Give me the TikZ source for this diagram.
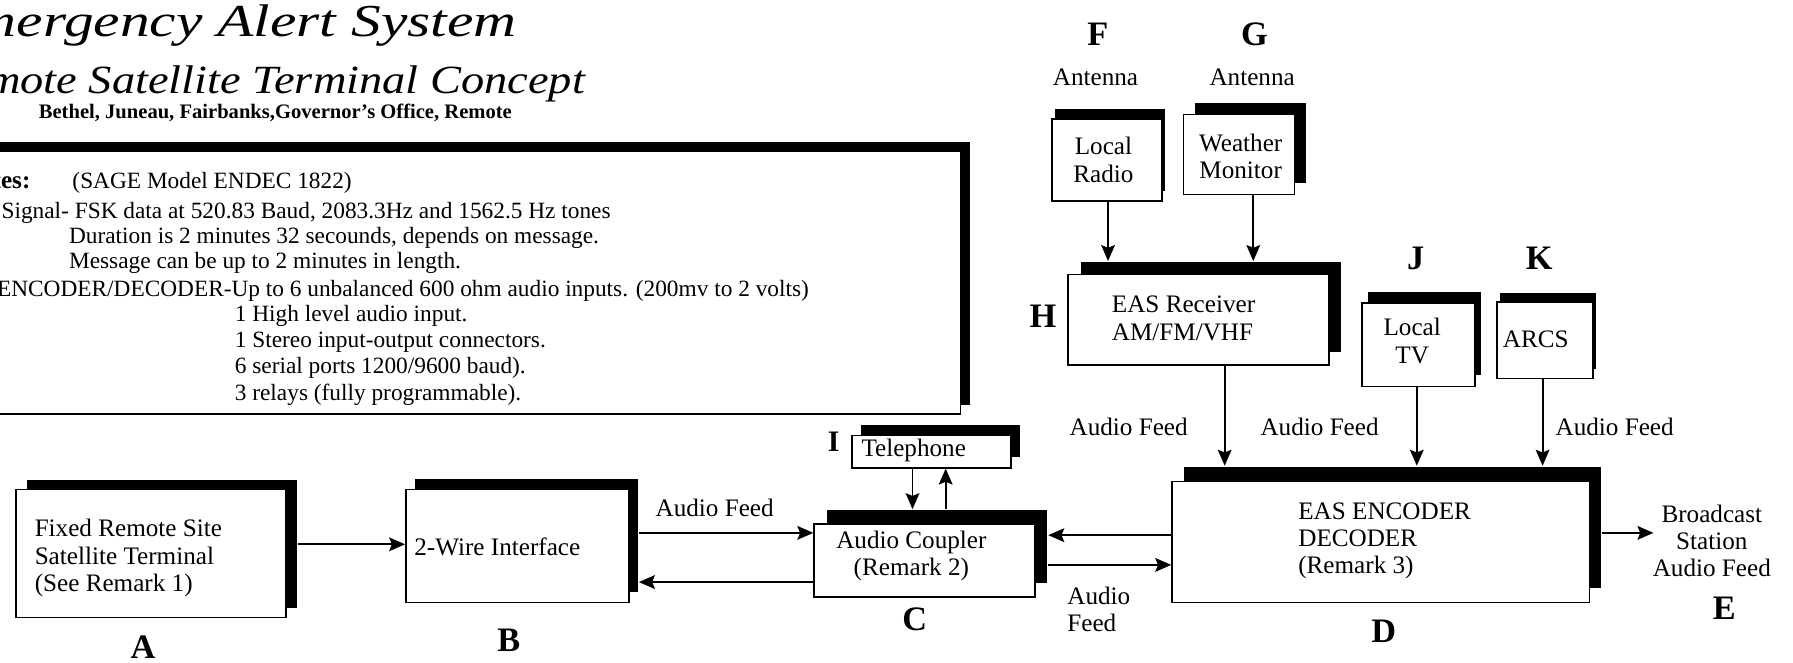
\documentclass[tikz,border=0pt]{standalone}
\usepackage{graphicx}
\usepackage{fontspec}
\setmainfont{Liberation Serif}
\usetikzlibrary{arrows.meta,shadows}
\begin{document}
\begin{tikzpicture}[x=0.5pt,y=-0.5pt,
  box/.style={draw=black, line width=0.7pt, fill=white, inner sep=0pt},
  sh/.style 2 args={general shadow={fill=black, shadow xshift=#1, shadow yshift=#2}},
  txt/.style={font=\fontsize{11}{12}\selectfont, inner sep=0pt},
  note/.style={font=\fontsize{10.2}{11}\selectfont, inner sep=0pt, anchor=west},
  big/.style={font=\bfseries\fontsize{15}{15}\selectfont, inner sep=0pt},
  arr/.style={line width=0.8pt, -{Stealth[length=7pt,width=6pt,inset=1.2pt]}}]
\fill[white] (0,0) rectangle (1568,579);
\useasboundingbox (0,0) rectangle (1568,579);

% titles
\node[anchor=base east, inner sep=0pt, font=\itshape\fontsize{20}{20}\selectfont] (t1) at (452,32) {\scalebox{1.3}[1]{Emergency Alert System}};
\node[anchor=base east, inner sep=0pt, font=\itshape\fontsize{17.5}{17.5}\selectfont] (t2) at (512,82) {\scalebox{1.16}[1]{Remote Satellite Terminal Concept}};
\node[anchor=base east, inner sep=0pt, font=\bfseries\fontsize{9}{9}\selectfont] (t3) at (448,104) {Bethel, Juneau, Fairbanks,Governor's Office, Remote};

% notes box
\node[box, sh={4pt}{4pt}, minimum width=425pt, minimum height=115pt] (notes) at (415,247) {};
\node[note, anchor=east, font=\bfseries\fontsize{11}{12}\selectfont] (n0) at (27,158) {Notes:};
\node[note] (n1) at (63,160) {(SAGE Model ENDEC 1822)};
\node[note] (n2) at (1,186) {Signal- FSK data at 520.83 Baud, 2083.3Hz and 1562.5 Hz tones};
\node[note] (n3) at (60,208) {Duration is 2 minutes 32 secounds, depends on message.};
\node[note] (n4) at (60,230) {Message can be up to 2 minutes in length.};
\node[note] (n5) at (-3,254) {ENCODER/DECODER-Up to 6 unbalanced 600 ohm audio inputs. (200mv to 2 volts)};
\node[note] (n6) at (205,276) {1 High level audio input.};
\node[note] (n7) at (205,299) {1 Stereo input-output connectors.};
\node[note] (n8) at (205,322) {6 serial ports 1200/9600 baud).};
\node[note] (n9) at (205,345) {3 relays (fully programmable).};

% boxes
\node[box, sh={5pt}{4pt}, minimum width=118pt, minimum height=56pt] (A) at (132,484) {};
\node[txt, anchor=west, align=left] (Atxt) at (30,488) {Fixed Remote Site\\Satellite Terminal\\(See Remark 1)};
\node[box, sh={4pt}{4.5pt}, minimum width=97.5pt, minimum height=49.5pt] (B) at (452.5,477.5) {};
\node[txt, anchor=west] (Btxt) at (362,478) {2-Wire Interface};
\node[box, sh={5.5pt}{6pt}, minimum width=96.5pt, minimum height=32pt] (C) at (808.5,490) {};
\node[txt, align=center] (Ctxt) at (797,486) {Audio Coupler\\(Remark 2)};
\node[box, sh={4pt}{4.5pt}, minimum width=69.5pt, minimum height=14pt] (I) at (814.5,395) {};
\node[txt, anchor=west] (Itxt) at (753,394) {Telephone};
\node[box, sh={5pt}{6.5pt}, minimum width=182.5pt, minimum height=53pt] (D) at (1207.5,474) {};
\node[txt, anchor=west, align=left] (Dtxt) at (1135,473) {EAS ENCODER\\DECODER\\(Remark 3)};
\node[box, sh={5.5pt}{5.5pt}, minimum width=114pt, minimum height=39.5pt] (H) at (1048,279.5) {};
\node[txt, anchor=west, align=left] (Htxt) at (972,278.5) {EAS Receiver\\AM/FM/VHF};
\node[box, sh={1.5pt}{4.5pt}, minimum width=48pt, minimum height=36pt] (F) at (968,140) {};
\node[txt, align=center] (Ftxt) at (965,140) {Local\\Radio};
\node[box, sh={5pt}{5pt}, minimum width=48.5pt, minimum height=35pt] (G) at (1083.5,135) {};
\node[txt, align=center] (Gtxt) at (1085,137) {Weather\\Monitor};
\node[box, sh={2.5pt}{5pt}, minimum width=49.5pt, minimum height=36.5pt] (J) at (1240.5,301.5) {};
\node[txt, align=center] (Jtxt) at (1235,298) {Local\\TV};
\node[box, sh={1.5pt}{4pt}, minimum width=42pt, minimum height=33.5pt] (K) at (1351,297.5) {};
\node[txt] (Ktxt) at (1343,297) {ARCS};

% letters
\node[big] (LA) at (125,566) {A};
\node[big] (LB) at (445,560) {B};
\node[big] (LC) at (800,542) {C};
\node[big] (LD) at (1210,552) {D};
\node[big] (LE) at (1508,532) {E};
\node[big] (LF) at (960,30) {F};
\node[big] (LG) at (1097,30) {G};
\node[big] (LH) at (912,277) {H};
\node[big, font=\bfseries\fontsize{13}{13}\selectfont] (LI) at (729,386) {I};
\node[big] (LJ) at (1238,226) {J};
\node[big] (LK) at (1346,226) {K};

% labels
\node[txt] (antF) at (958,68) {Antenna};
\node[txt] (antG) at (1095,68) {Antenna};
\node[txt] (af1) at (625,444) {Audio Feed};
\node[txt] (af2) at (987,373) {Audio Feed};
\node[txt] (af3) at (1154,373) {Audio Feed};
\node[txt] (af4) at (1412,373) {Audio Feed};
\node[txt, anchor=west, align=left] (af5) at (933,533) {Audio\\Feed};
\node[txt, align=center] (Etxt) at (1497,473) {Broadcast\\Station\\Audio Feed};

% helper coordinates
\coordinate (Ash) at ([xshift=5pt]A.east);
\coordinate (Bsh) at ([xshift=4pt]B.east);
\coordinate (Csh) at ([xshift=5.5pt]C.east);
\coordinate (Ctop) at ([yshift=6pt]C.north);
\coordinate (Dsh) at ([xshift=5pt]D.east);
\coordinate (Dtop) at ([yshift=6.5pt]D.north);
\coordinate (Htop) at ([yshift=5.5pt]H.north);
\coordinate (yab) at (0,476);
\coordinate (ybc1) at (0,466);
\coordinate (ybc2) at (0,509);
\coordinate (ycd1) at (0,468);
\coordinate (ycd2) at (0,494);
\coordinate (yde) at (0,466);
\coordinate (xi1) at (798,0);
\coordinate (xi2) at (827,0);
\coordinate (xf) at (969,0);
\coordinate (xg) at (1096,0);
\coordinate (xh) at (1071,0);
\coordinate (xj) at (1239,0);
\coordinate (xk) at (1349,0);
\coordinate (Etip) at (1446,466);

% connectors
\draw[arr] (Ash |- yab) -- (B.west |- yab);
\draw[arr] (Bsh |- ybc1) -- (C.west |- ybc1);
\draw[arr] (C.west |- ybc2) -- (Bsh |- ybc2);
\draw[arr] (D.west |- ycd1) -- (Csh |- ycd1);
\draw[arr] (Csh |- ycd2) -- (D.west |- ycd2);
\draw[arr] (xi1 |- I.south) -- (xi1 |- Ctop);
\draw[arr] (xi2 |- Ctop) -- (xi2 |- I.south);
\draw[arr] (xf |- F.south) -- (xf |- Htop);
\draw[arr] (xg |- G.south) -- (xg |- Htop);
\draw[arr] (xh |- H.south) -- (xh |- Dtop);
\draw[arr] (xj |- J.south) -- (xj |- Dtop);
\draw[arr] (xk |- K.south) -- (xk |- Dtop);
\draw[arr] (Dsh |- yde) -- (Etip);
\end{tikzpicture}
\end{document}
